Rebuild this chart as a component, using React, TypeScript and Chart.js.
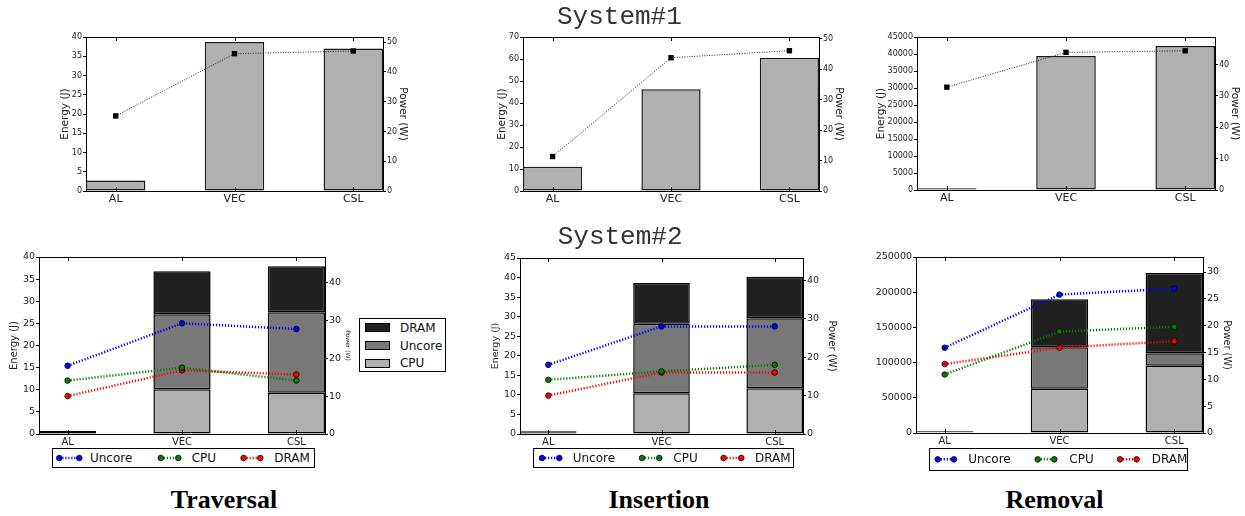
import React, { useEffect, useRef } from 'react';
import { Chart, registerables } from 'chart.js';

Chart.register(...registerables);

// ---------------- data ----------------
const categories = ['AL', 'VEC', 'CSL'];

// System#1: total energy (J) and power (W)
const s1TraversalEnergy = [2.7, 38.7, 37.0];
const s1TraversalPower = [25.2, 46.1, 47.0];
const s1InsertionEnergy = [11.0, 46.3, 60.6];
const s1InsertionPower = [11.3, 43.7, 46.0];
const s1RemovalEnergy = [500, 39400, 42350];
const s1RemovalPower = [32.8, 43.9, 44.4];

// System#2: stacked energy (J) per component
const s2TraversalCPU = [0.25, 10.1, 9.3];
const s2TraversalUncore = [0.2, 16.95, 18.2];
const s2TraversalDRAM = [0.25, 9.75, 10.4];
const s2InsertionCPU = [0.25, 10.4, 11.7];
const s2InsertionUncore = [0.2, 17.8, 17.9];
const s2InsertionDRAM = [0.25, 10.4, 10.6];
const s2RemovalCPU = [1000, 63000, 95600];
const s2RemovalUncore = [800, 58700, 17600];
const s2RemovalDRAM = [1000, 68200, 114100];

// System#2: power (W) per component
const s2TraversalPowerUncore = [18.0, 29.2, 27.7];
const s2TraversalPowerCPU = [14.1, 17.5, 14.1];
const s2TraversalPowerDRAM = [10.0, 16.8, 15.7];
const s2InsertionPowerUncore = [18.0, 28.0, 28.0];
const s2InsertionPowerCPU = [14.1, 16.3, 18.0];
const s2InsertionPowerDRAM = [10.0, 16.0, 16.0];
const s2RemovalPowerUncore = [15.9, 25.8, 26.9];
const s2RemovalPowerCPU = [10.9, 18.9, 19.8];
const s2RemovalPowerDRAM = [12.85, 15.9, 17.1];

// axis ranges
const s1TraversalAxis = { yMax: 40, yStep: 5, y1Max: 51.7, y1Step: 10 };
const s1InsertionAxis = { yMax: 70, yStep: 10, y1Max: 50.5, y1Step: 10 };
const s1RemovalAxis = { yMax: 45000, yStep: 5000, y1Max: 48.8, y1Step: 10 };
const s2TraversalAxis = { yMax: 40, yStep: 5, y1Max: 46.7, y1Step: 10 };
const s2InsertionAxis = { yMax: 45, yStep: 5, y1Max: 45.8, y1Step: 10 };
const s2RemovalAxis = { yMax: 250000, yStep: 50000, y1Max: 32.8, y1Step: 5 };

const componentNames = ['CPU', 'Uncore', 'DRAM'];
const barColors = { CPU: '#b0b0b0', Uncore: '#787878', DRAM: '#202020' };
const lineColors = { Uncore: '#0000ff', CPU: '#008000', DRAM: '#ff0000' };

const FONT = "'DejaVu Sans', sans-serif";

const pts = (vals: number[]) => vals.map((v, i) => ({ x: i, y: v }));

const framePlugin = {
  id: 'frame',
  afterDatasetsDraw(chart: any) {
    const { ctx, chartArea, scales } = chart;
    const { left, right, top, bottom } = chartArea;
    ctx.save();
    ctx.strokeStyle = '#000';
    ctx.lineWidth = 1;
    ctx.setLineDash([]);
    ctx.beginPath();
    ctx.moveTo(left, Math.round(top) + 0.5);
    ctx.lineTo(right, Math.round(top) + 0.5);
    categories.forEach((_, i) => {
      const px = Math.round(scales.x.getPixelForValue(i)) + 0.5;
      ctx.moveTo(px, top);
      ctx.lineTo(px, top + 4);
      ctx.moveTo(px, bottom);
      ctx.lineTo(px, bottom - 4);
    });
    ctx.stroke();
    ctx.restore();
  },
};

type PanelCfg = {
  plot: [number, number, number, number];
  leftW: number;
  rightW: number;
  topPad: number;
  bottomH: number;
  axis: { yMax: number; yStep: number; y1Max: number; y1Step: number };
  yTickSize: number;
  y1TickSize: number;
  xTickSize: number;
  leftTitle: string;
  leftTitleSize: number;
  leftTitleDist: number;
  rightTitleSize: number;
  rightTitleDist: number;
  stacked: boolean;
  datasets: any[];
};

function PanelChart({ cfg }: { cfg: PanelCfg }) {
  const ref = useRef<HTMLCanvasElement>(null);
  const [L, T, R, B] = cfg.plot;
  const w = Math.round(cfg.leftW + (R - L) + cfg.rightW);
  const h = Math.round(cfg.topPad + (B - T) + cfg.bottomH);
  useEffect(() => {
    if (!ref.current) return;
    const tickColor = '#222';
    const chart = new Chart(ref.current, {
      type: 'bar',
      data: { datasets: cfg.datasets },
      options: {
        animation: false,
        responsive: false,
        events: [],
        layout: { padding: { top: cfg.topPad, left: 0, right: 0, bottom: 0 } },
        plugins: { legend: { display: false }, tooltip: { enabled: false } },
        datasets: { bar: { categoryPercentage: 1, barPercentage: 0.5 } } as any,
        scales: {
          x: {
            type: 'linear',
            min: -0.25,
            max: 2.25,
            offset: false,
            afterBuildTicks: (s: any) => {
              s.ticks = categories.map((_, i) => ({ value: i }));
            },
            afterFit: (s: any) => {
              s.height = cfg.bottomH;
            },
            ticks: {
              callback: (v: any) => categories[v] ?? '',
              font: { family: FONT, size: cfg.xTickSize },
              color: tickColor,
              padding: 2,
              autoSkip: false,
              maxRotation: 0,
              includeBounds: false,
            },
            grid: { display: true, drawOnChartArea: false, drawTicks: false, offset: false },
            border: { display: true, color: '#000', width: 1, dash: [3, 3] },
          } as any,
          y: {
            type: 'linear',
            position: 'left',
            min: 0,
            max: cfg.axis.yMax,
            stacked: cfg.stacked,
            afterFit: (s: any) => {
              s.width = cfg.leftW;
            },
            ticks: {
              stepSize: cfg.axis.yStep,
              includeBounds: false,
              callback: (v: any) => String(v),
              font: { family: FONT, size: cfg.yTickSize },
              color: tickColor,
              padding: 1,
            },
            grid: { drawOnChartArea: false, tickLength: 3, color: '#000' },
            border: { color: '#000', width: 1 },
            title: {
              display: cfg.leftTitle !== '',
              text: cfg.leftTitle,
              font: { family: FONT, size: cfg.leftTitleSize },
              color: tickColor,
              padding: { top: cfg.leftW - cfg.leftTitleDist - 0.6 * cfg.leftTitleSize, bottom: 0 },
            },
          } as any,
          y1: {
            type: 'linear',
            position: 'right',
            min: 0,
            max: cfg.axis.y1Max,
            afterFit: (s: any) => {
              s.width = cfg.rightW;
            },
            ticks: {
              stepSize: cfg.axis.y1Step,
              includeBounds: false,
              callback: (v: any) => String(v),
              font: { family: FONT, size: cfg.y1TickSize },
              color: tickColor,
              padding: 1,
            },
            grid: { drawOnChartArea: false, tickLength: 3, color: '#000' },
            border: { color: '#000', width: 1 },
            title: {
              display: true,
              text: 'Power (W)',
              font: { family: FONT, size: cfg.rightTitleSize },
              color: tickColor,
              padding: { top: cfg.rightW - cfg.rightTitleDist - 0.6 * cfg.rightTitleSize, bottom: 0 },
            },
          } as any,
        },
      },
      plugins: [framePlugin],
    });
    return () => chart.destroy();
  }, []);
  return (
    <canvas
      ref={ref}
      width={w}
      height={h}
      style={{ position: 'absolute', left: Math.round(L - cfg.leftW), top: Math.round(T - cfg.topPad), width: w, height: h }}
    />
  );
}

function system1Datasets(energy: number[], power: number[]) {
  return [
    {
      type: 'line',
      data: pts(power),
      yAxisID: 'y1',
      xAxisID: 'x',
      borderColor: '#222',
      borderWidth: 1,
      borderDash: [1, 1.5],
      pointStyle: 'rect',
      pointRadius: 3.8,
      pointBackgroundColor: '#000',
      pointBorderColor: '#000',
      pointBorderWidth: 0,
      order: 0,
    },
    {
      type: 'bar',
      data: pts(energy),
      yAxisID: 'y',
      xAxisID: 'x',
      backgroundColor: '#b0b0b0',
      borderColor: '#1a1a1a',
      borderWidth: 1.5,
      borderSkipped: false,
      inflateAmount: 0,
      order: 1,
    },
  ];
}

function system2Datasets(bars: number[][], powers: { [k: string]: number[] }) {
  const lines = ['Uncore', 'CPU', 'DRAM'].map((name) => ({
    type: 'line',
    data: pts(powers[name]),
    yAxisID: 'y1',
    xAxisID: 'x',
    borderColor: (lineColors as any)[name],
    borderWidth: 2.5,
    borderDash: [1.2, 1.8],
    pointStyle: 'circle',
    pointRadius: 2.8,
    pointBackgroundColor: (lineColors as any)[name],
    pointBorderColor: '#000',
    pointBorderWidth: 0.8,
    order: 0,
  }));
  const barSets = componentNames.map((name, i) => ({
    type: 'bar',
    data: pts(bars[i]),
    yAxisID: 'y',
    xAxisID: 'x',
    stack: 's',
    backgroundColor: (barColors as any)[name],
    borderColor: '#000',
    borderWidth: 1.5,
    borderSkipped: false,
    inflateAmount: 0,
    order: 1,
  }));
  return [...lines, ...barSets];
}

const topBase = { topPad: 12, bottomH: 26, yTickSize: 8, y1TickSize: 8, xTickSize: 11, leftTitleSize: 10.5, rightTitleSize: 10.5, stacked: false };
const botBase = { topPad: 12, bottomH: 16, yTickSize: 9.5, y1TickSize: 9.5, xTickSize: 10, stacked: true };

const panels: PanelCfg[] = [
  {
    ...topBase,
    plot: [86, 37, 383, 190.5],
    leftW: 45, rightW: 40,
    axis: s1TraversalAxis,
    leftTitle: 'Energy (J)', leftTitleDist: 21, rightTitleDist: 20,
    datasets: system1Datasets(s1TraversalEnergy, s1TraversalPower),
  },
  {
    ...topBase,
    plot: [523, 37, 819, 190.7],
    leftW: 45, rightW: 40,
    axis: s1InsertionAxis,
    leftTitle: 'Energy (J)', leftTitleDist: 21, rightTitleDist: 20,
    datasets: system1Datasets(s1InsertionEnergy, s1InsertionPower),
  },
  {
    ...topBase,
    plot: [917, 37, 1215, 190.4],
    leftW: 48, rightW: 30,
    axis: s1RemovalAxis,
    leftTitle: 'Energy (J)', leftTitleDist: 35.5, rightTitleDist: 20,
    datasets: system1Datasets(s1RemovalEnergy, s1RemovalPower),
  },
  {
    ...botBase,
    plot: [39, 257, 325, 434],
    leftW: 39, rightW: 40,
    axis: s2TraversalAxis,
    leftTitle: 'Energy (J)', leftTitleSize: 10, leftTitleDist: 24.8,
    rightTitleSize: 6, rightTitleDist: 23,
    datasets: system2Datasets([s2TraversalCPU, s2TraversalUncore, s2TraversalDRAM], {
      Uncore: s2TraversalPowerUncore, CPU: s2TraversalPowerCPU, DRAM: s2TraversalPowerDRAM,
    }),
  },
  {
    ...botBase,
    plot: [520, 257.7, 803, 434],
    leftW: 45, rightW: 40,
    axis: s2InsertionAxis,
    leftTitle: 'Energy (J)', leftTitleSize: 9.5, leftTitleDist: 24.3,
    rightTitleSize: 10, rightTitleDist: 28.7,
    datasets: system2Datasets([s2InsertionCPU, s2InsertionUncore, s2InsertionDRAM], {
      Uncore: s2InsertionPowerUncore, CPU: s2InsertionPowerCPU, DRAM: s2InsertionPowerDRAM,
    }),
  },
  {
    ...botBase,
    plot: [916, 257.3, 1203, 433.4],
    leftW: 45, rightW: 30,
    axis: s2RemovalAxis,
    leftTitle: '', leftTitleSize: 10, leftTitleDist: 30,
    rightTitleSize: 9.7, rightTitleDist: 24,
    datasets: system2Datasets([s2RemovalCPU, s2RemovalUncore, s2RemovalDRAM], {
      Uncore: s2RemovalPowerUncore, CPU: s2RemovalPowerCPU, DRAM: s2RemovalPowerDRAM,
    }),
  },
];

// ---------------- legends ----------------
type LegendItem = { name: string; m1: number; m2: number; tx: number };
const lineLegends: { box: [number, number, number, number]; items: LegendItem[] }[] = [
  {
    box: [51.7, 448.3, 263.6, 20],
    items: [
      { name: 'Uncore', m1: 59, m2: 79, tx: 90 },
      { name: 'CPU', m1: 160.5, m2: 178, tx: 191.7 },
      { name: 'DRAM', m1: 243.3, m2: 260, tx: 274.3 },
    ],
  },
  {
    box: [532.7, 448.3, 261.6, 20],
    items: [
      { name: 'Uncore', m1: 541.7, m2: 559, tx: 572.7 },
      { name: 'CPU', m1: 641.7, m2: 659, tx: 673.3 },
      { name: 'DRAM', m1: 723.3, m2: 741, tx: 755 },
    ],
  },
  {
    box: [929, 448.3, 259.3, 22.7],
    items: [
      { name: 'Uncore', m1: 937.7, m2: 954, tx: 968.3 },
      { name: 'CPU', m1: 1037.7, m2: 1054.3, tx: 1069.3 },
      { name: 'DRAM', m1: 1120, m2: 1136.7, tx: 1151.7 },
    ],
  },
];

function LineLegend({ box, items }: { box: [number, number, number, number]; items: LegendItem[] }) {
  const [bl, bt, bw, bh] = box;
  const cy = bh / 2;
  return (
    <div
      style={{
        position: 'absolute', left: bl, top: bt, width: bw, height: bh,
        border: '1px solid #000', boxSizing: 'border-box', background: '#fff',
      }}
    >
      <svg width={bw} height={bh} style={{ position: 'absolute', left: -1, top: -1 }}>
        {items.map((it) => {
          const c = (lineColors as any)[it.name];
          const x1 = it.m1 - bl;
          const x2 = it.m2 - bl;
          return (
            <g key={it.name}>
              <line x1={x1} y1={cy} x2={x2} y2={cy} stroke={c} strokeWidth={2.5} strokeDasharray="1.2 1.8" />
              <circle cx={x1} cy={cy} r={2.8} fill={c} stroke="#000" strokeWidth={0.8} />
              <circle cx={x2} cy={cy} r={2.8} fill={c} stroke="#000" strokeWidth={0.8} />
            </g>
          );
        })}
      </svg>
      {items.map((it) => (
        <span
          key={it.name}
          style={{
            position: 'absolute', left: it.tx - bl - 1, top: 0, height: bh - 2, lineHeight: `${bh - 2}px`,
            fontFamily: FONT, fontSize: 12, color: '#111', whiteSpace: 'nowrap',
          }}
        >
          {it.name}
        </span>
      ))}
    </div>
  );
}

const barLegendOrder = ['DRAM', 'Uncore', 'CPU'];

function BarLegend() {
  const rows = [10, 28, 45.6];
  return (
    <div
      style={{
        position: 'absolute', left: 359.3, top: 317.7, width: 86.4, height: 54.6,
        border: '1px solid #000', boxSizing: 'border-box', background: '#fff',
      }}
    >
      {barLegendOrder.map((name, i) => (
        <React.Fragment key={name}>
          <div
            style={{
              position: 'absolute', left: 4.7, top: rows[i] - 4.4 - 1, width: 25, height: 8.7,
              background: (barColors as any)[name], border: '1px solid #000', boxSizing: 'border-box',
            }}
          />
          <span
            style={{
              position: 'absolute', left: 39.7, top: rows[i] - 8 - 1, height: 16, lineHeight: '16px',
              fontFamily: FONT, fontSize: 12, color: '#111', whiteSpace: 'nowrap',
            }}
          >
            {name}
          </span>
        </React.Fragment>
      ))}
    </div>
  );
}

// ---------------- titles ----------------
const systemTitles = [
  { text: 'System#1', left: 557, top: 4 },
  { text: 'System#2', left: 557.7, top: 224.4 },
];
const opTitles = [
  { text: 'Traversal', cx: 224 },
  { text: 'Insertion', cx: 659 },
  { text: 'Removal', cx: 1054.5 },
];

export default function App() {
  return (
    <div
      style={{
        position: 'fixed', left: 0, top: 0, width: 1245, height: 516,
        background: '#fff', overflow: 'hidden',
      }}
    >
      {panels.map((p, i) => (
        <PanelChart key={i} cfg={p} />
      ))}
      <BarLegend />
      {lineLegends.map((lg, i) => (
        <LineLegend key={i} box={lg.box} items={lg.items} />
      ))}
      {systemTitles.map((t) => (
        <div
          key={t.text}
          style={{
            position: 'absolute', left: t.left, top: t.top, fontFamily: "'Liberation Mono', monospace",
            fontSize: 26, lineHeight: '26px', color: '#333', whiteSpace: 'nowrap',
          }}
        >
          {t.text}
        </div>
      ))}
      {opTitles.map((t) => (
        <div
          key={t.text}
          style={{
            position: 'absolute', left: t.cx - 100, width: 200, top: 487, textAlign: 'center',
            fontFamily: "'Liberation Serif', serif", fontWeight: 'bold', fontSize: 26,
            lineHeight: '26px', color: '#000', whiteSpace: 'nowrap',
          }}
        >
          {t.text}
        </div>
      ))}
    </div>
  );
}
